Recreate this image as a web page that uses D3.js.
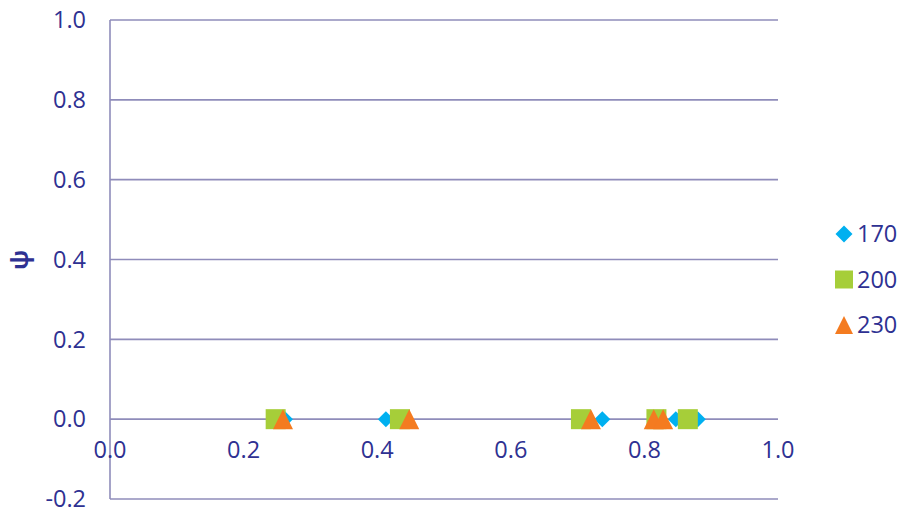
<!DOCTYPE html>
<html><head><meta charset="utf-8">
<script src="https://cdn.jsdelivr.net/npm/d3@7"></script>
<style>body{margin:0;background:#fff}svg{display:block}text{font-family:"Open Sans","Noto Sans",sans-serif;fill:#2e3192}</style>
</head><body>
<script>
const seriesNames = ["170", "200", "230"];
const x170 = [0.262, 0.413, 0.737, 0.847, 0.880];
const y170 = [0, 0, 0, 0, 0];
const x200 = [0.248, 0.434, 0.705, 0.818, 0.865];
const y200 = [0, 0, 0, 0, 0];
const x230 = [0.259, 0.448, 0.720, 0.814, 0.828];
const y230 = [0, 0, 0, 0, 0];
const xTicks = [0.0, 0.2, 0.4, 0.6, 0.8, 1.0];
const yTicks = [-0.2, 0.0, 0.2, 0.4, 0.6, 0.8, 1.0];
const colors = ["#00b0f0", "#a6ce39", "#f47b20"];

// custom marker shapes; size = full width in px
const diamond = { draw(ctx, s) { const r = s / 2; ctx.moveTo(0, -r); ctx.lineTo(r, 0); ctx.lineTo(0, r); ctx.lineTo(-r, 0); ctx.closePath(); } };
const square = { draw(ctx, s) { const r = s / 2; ctx.rect(-r, -r, s, s); } };
const triangle = { draw(ctx, s) { const r = s / 2; ctx.moveTo(0, -r); ctx.lineTo(r, r); ctx.lineTo(-r, r); ctx.closePath(); } };
const symbols = [diamond, square, triangle];
const markerSizes = [16, 20, 20];
const legendSizes = [17, 18, 18];

const fmt = v => d3.format(".1f")(v).replace("−", "-");

const W = 906, H = 511;
const svg = d3.select("body").append("svg").attr("width", W).attr("height", H);
const x = d3.scaleLinear().domain([0, 1]).range([110, 778]);
const y = d3.scaleLinear().domain([-0.2, 1]).range([499, 20]);
const grid = "#8f8cba";

svg.append("g").selectAll("line").data(yTicks).join("line")
  .attr("x1", x(0)).attr("x2", x(1))
  .attr("y1", d => y(d)).attr("y2", d => y(d))
  .attr("stroke", grid).attr("stroke-width", 1.6);
svg.append("line").attr("x1", x(0)).attr("x2", x(0)).attr("y1", y(1)).attr("y2", y(-0.2))
  .attr("stroke", grid).attr("stroke-width", 1.6);

svg.append("g").selectAll("text").data(yTicks).join("text")
  .attr("x", 86).attr("y", d => y(d)).attr("dy", "0.35em")
  .attr("text-anchor", "end").attr("font-size", 23.5)
  .text(fmt);
svg.append("g").selectAll("text").data(xTicks).join("text")
  .attr("x", d => x(d)).attr("y", 458)
  .attr("text-anchor", "middle").attr("font-size", 23.5)
  .text(fmt);

svg.append("text").attr("transform", "translate(28,260) rotate(-90)")
  .attr("text-anchor", "middle").attr("font-size", 24).attr("font-weight", "bold")
  .text("ψ");

const data = [[x170, y170], [x200, y200], [x230, y230]];
data.forEach((s, i) => {
  svg.append("g").selectAll("path").data(s[0].map((v, j) => [v, s[1][j]])).join("path")
    .attr("transform", d => `translate(${x(d[0])},${y(d[1])})`)
    .attr("d", d3.symbol(symbols[i], markerSizes[i]))
    .attr("fill", colors[i]);
});

const leg = svg.append("g");
seriesNames.forEach((n, i) => {
  const cy = 234 + i * 45.5;
  leg.append("path").attr("transform", `translate(844,${cy})`)
    .attr("d", d3.symbol(symbols[i], legendSizes[i])).attr("fill", colors[i]);
  leg.append("text").attr("x", 857).attr("y", cy).attr("dy", "0.35em")
    .attr("font-size", 23.5).text(n);
});
</script>
</body></html>
